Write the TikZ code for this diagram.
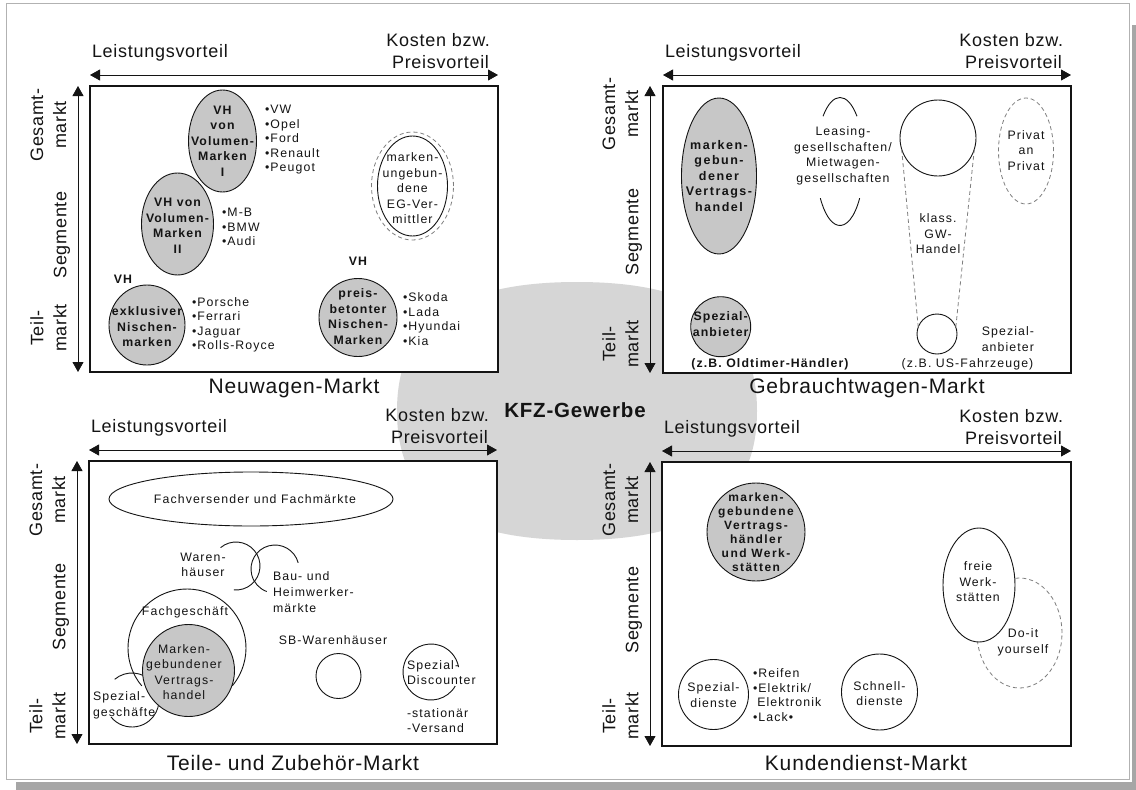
\documentclass[tikz,border=0pt]{standalone}
\usepackage{fontspec}
\setmainfont{Liberation Sans}[LetterSpace=4]
\newfontfamily\fontA{Liberation Sans}[LetterSpace=9]
\newfontfamily\fontB{Liberation Sans}[LetterSpace=12]
\usetikzlibrary{arrows.meta,shapes.geometric}
\definecolor{ink}{gray}{0.08}
\definecolor{shadefill}{gray}{0.78}
\definecolor{blob}{gray}{0.84}
\newcommand{\Axes}[9]{%
  \coordinate (#1tl) at (#2,#3);
  \coordinate (#1br) at (#4,#5);
  \draw[frame] (#1tl) rectangle (#1br);
  \coordinate (#1hl) at (#2,{#3-11});
  \coordinate (#1hr) at (#4,{#3-11});
  \draw[dbl] (#1hl) -- (#1hr);
  \coordinate (#1vt) at (#6,#3);
  \coordinate (#1vb) at (#6,#5);
  \draw[dbl] (#1vt) -- (#1vb);
  \node[lab, anchor=base west] (#1lv) at ({#2+2},{#3-29}) {Leistungsvorteil};
  \node[lab, anchor=base east] (#1kb) at ({#4-8},{#3-40}) {Kosten bzw.};
  \node[lab, anchor=base east] (#1pv) at ({#4-9},{#3-18}) {Preisvorteil};
  \node[lab, rotate=90, align=center] (#1ge) at ({#6-29.5},#7) {Gesamt-\\markt};
  \node[lab, rotate=90] (#1sg) at ({#6-16},#8) {Segmente};
  \node[lab, rotate=90, align=center] (#1tm) at ({#6-29.5},#9) {Teil-\\markt};
}
\begin{document}
\begin{tikzpicture}[x=1pt,y=-1pt,
  every node/.style={text=ink, inner sep=0pt, outer sep=0pt},
  lab/.style={font=\fontsize{18}{23}\selectfont},
  ttl/.style={font=\fontsize{21}{25}\selectfont},
  sm/.style={font=\fontA\fontsize{12.3}{15.5}\selectfont, align=center},
  smb/.style={font=\fontA\bfseries\fontsize{12.3}{15.5}\selectfont, align=center},
  smw/.style={font=\fontB\bfseries\fontsize{12.5}{15.5}\selectfont, align=center},
  lst/.style={font=\fontA\fontsize{12.3}{14.5}\selectfont, align=left, anchor=west},
  lstw/.style={font=\fontA\fontsize{12.3}{16}\selectfont, align=left, anchor=west},
  frame/.style={draw=ink, line width=1.4pt, fill=white},
  dbl/.style={draw=ink, line width=0.8pt, {Triangle[length=10pt,width=11pt]}-{Triangle[length=10pt,width=11pt]}},
  ring/.style={draw=ink, line width=0.9pt},
  shade/.style={ring, fill=shadefill},
  dring/.style={draw=ink!55, line width=0.8pt, dash pattern=on 4pt off 3pt},
]
\useasboundingbox (0,0) rectangle (1136,790);
\fill[white] (0,0) rectangle (1136,790);
% page and shadow
\fill[gray!70] (16,782) rectangle (1136,790);
\fill[gray!70] (1132,25) rectangle (1136,790);
\draw[gray!60, line width=0.6pt] (6,3) rectangle (1129,779);
% central blob
\fill[blob] (397,411) .. controls (397,323) and (455,282) .. (577,282)
  .. controls (699,282) and (757,323) .. (757,411)
  .. controls (757,499) and (699,540) .. (577,540)
  .. controls (455,540) and (397,499) .. (397,411) -- cycle;
% quadrants
\Axes{a}{90}{86}{498}{372}{78}{125}{235}{328}
\Axes{b}{663}{86}{1071}{373}{650}{114}{232}{344}
\Axes{c}{89}{461}{497}{744}{77}{500}{607}{716}
\Axes{d}{662}{462}{1071}{746}{650}{500}{610}{716}
\node[ttl] (tA) at (294,388) {Neuwagen-Markt};
\node[ttl] (tB) at (867,388) {Gebrauchtwagen-Markt};
\node[ttl] (tC) at (293,763) {Teile- und Zubehör-Markt};
\node[ttl] (tD) at (866,763) {Kundendienst-Markt};
\node[font=\bfseries\fontsize{20.5}{24}\selectfont] (kfz) at (575,410) {KFZ-Gewerbe};
% ---- Neuwagen
\node[shade, ellipse, minimum width=68pt, minimum height=102pt] (vh1) at (222.5,141) {};
\node[smb] (vh1t) at (vh1) {VH\\von\\Volumen-\\Marken\\I};
\node[lst] (vh1l) at (265,140) {•VW\\•Opel\\•Ford\\•Renault\\•Peugot};
\node[shade, ellipse, minimum width=72pt, minimum height=102pt] (vh2) at (177.5,224) {};
\node[smb] (vh2t) at (177.5,226) {VH von\\Volumen-\\Marken\\II};
\node[lst] (vh2l) at (222,227) {•M-B\\•BMW\\•Audi};
\node[smb] (vh3h) at (123,279) {VH};
\node[shade, ellipse, minimum width=76pt, minimum height=80pt] (vh3) at (147,325) {};
\node[smb] (vh3t) at (147,327) {exklusiver\\Nischen-\\marken};
\node[lst] (vh3l) at (192,325) {•Porsche\\•Ferrari\\•Jaguar\\•Rolls-Royce};
\node[smb] (vh4h) at (358,261) {VH};
\node[shade, circle, minimum size=78pt] (vh4) at (358,317.5) {};
\node[smb] (vh4t) at (358,316.5) {preis-\\betonter\\Nischen-\\Marken};
\node[lst] (vh4l) at (403,319) {•Skoda\\•Lada\\•Hyundai\\•Kia};
\node[dring, ellipse, minimum width=82pt, minimum height=108pt] (eg) at (412.5,186) {};
\node[ring, ellipse, minimum width=70pt, minimum height=100pt] (egi) at (412.5,186) {};
\node[sm] (egt) at (412.5,188.5) {marken-\\ungebun-\\dene\\EG-Ver-\\mittler};
% ---- Gebrauchtwagen
\node[shade, ellipse, minimum width=75pt, minimum height=156pt] (mv) at (719,176) {};
\node[smw] (mvt) at (719,176) {marken-\\gebun-\\dener\\Vertrags-\\handel};
\coordinate (ls) at (840,161.5);
\draw[ring] ([shift={(-135:24 and 64)}]ls) arc[start angle=-135, end angle=-45, x radius=24, y radius=64];
\draw[ring] ([shift={(35:24 and 64)}]ls) arc[start angle=35, end angle=145, x radius=24, y radius=64];
\node[sm] (lst) at (843,156) {Leasing-\\gesellschaften/\\Mietwagen-\\gesellschaften};
\node[ring, circle, minimum size=76pt] (cbig) at (938,138) {};
\node[ring, circle, minimum size=40pt] (csml) at (937,334) {};
\draw[dring] (cbig.197) -- (csml.160);
\draw[dring] (cbig.343) -- (csml.20);
\node[sm] (gw) at (938,234) {klass.\\GW-\\Handel};
\node[dring, ellipse, minimum width=55pt, minimum height=106pt] (pp) at (1026,151) {};
\node[sm] (ppt) at (1026,150.5) {Privat\\an\\Privat};
\node[shade, circle, minimum size=60pt] (sa) at (720.7,326.7) {};
\node[smb] (sat) at (720.7,324) {Spezial-\\anbieter};
\node[smb] (ot) at (770,364) {(z.B. Oldtimer-Händler)};
\node[sm, align=right, anchor=east] (sa2) at (1034,339) {Spezial-\\anbieter};
\node[sm] (us) at (967.5,364) {(z.B. US-Fahrzeuge)};
% ---- Teile und Zubehoer
\node[ring, ellipse, minimum width=284pt, minimum height=54pt] (fv) at (251,499) {};
\node[sm] (fvt) at (255,499) {Fachversender und Fachmärkte};
\coordinate (wh) at (236,566);
\draw[ring] ([shift={(-130:24)}]wh) arc[start angle=-130, end angle=95, radius=24];
\coordinate (bh) at (275,569);
\draw[ring] ([shift={(-15:24)}]bh) arc[start angle=-15, end angle=-250, radius=24];
\node[sm] (wht) at (203,565) {Waren-\\häuser};
\node[lstw] (bht) at (273,592) {Bau- und\\Heimwerker-\\märkte};
\coordinate (sg) at (132,700);
\draw[ring] ([shift={(-130:27)}]sg) arc[start angle=-130, end angle=141, radius=27];
\coordinate (fg) at (187,648);
\draw[ring] ([shift={(40:59)}]fg) arc[start angle=40, end angle=-220, radius=59];
\node[shade, circle, minimum size=92pt] (mg) at (188.5,670.5) {};
\node[sm] (mgt) at (184,672) {Marken-\\gebundener\\Vertrags-\\handel};
\node[sm] (fgt) at (185,612) {Fachgeschäft};
\node[lstw] (sgt) at (93,705) {Spezial-\\geschäfte};
\node[sm] (sb) at (333,640) {SB-Warenhäuser};
\node[ring, circle, minimum size=45pt] (sbc) at (338.5,676) {};
\coordinate (sd) at (431,672);
\draw[ring] ([shift={(30:28)}]sd) arc[start angle=30, end angle=350, radius=28];
\node[lst] (sdt) at (407,672.5) {Spezial-\\Discounter};
\node[lst] (sdv) at (407,720.5) {-stationär\\-Versand};
% ---- Kundendienst
\node[shade, circle, minimum size=98pt] (mw) at (756,532) {};
\node[smw, font=\fontB\bfseries\fontsize{12}{14}\selectfont] (mwt) at (756,532) {marken-\\gebundene\\Vertrags-\\händler\\und Werk-\\stätten};
\node[dring, ellipse, minimum width=85pt, minimum height=110pt] (diy) at (1019.5,633) {};
\node[ring, ellipse, minimum width=72pt, minimum height=114pt, fill=white] (fw) at (979,585) {};
\node[sm] (fwt) at (978,582) {freie\\Werk-\\stätten};
\node[sm] (diyt) at (1023,642.5) {Do-it\\yourself};
\node[ring, circle, minimum size=70pt] (spd) at (713.5,694.5) {};
\node[sm] (spdt) at (713.5,695) {Spezial-\\dienste};
\node[lst] (spdl) at (753,695) {•Reifen\\•Elektrik/\\\phantom{•}Elektronik\\•Lack•};
\node[ring, circle, minimum size=76pt] (snd) at (879.5,692) {};
\node[sm] (sndt) at (879.5,693.5) {Schnell-\\dienste};
\end{tikzpicture}
\end{document}
